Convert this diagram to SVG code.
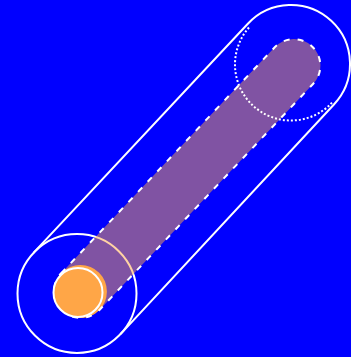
<svg xmlns="http://www.w3.org/2000/svg" width="351" height="357" viewBox="0 0 351 357">
  <style>
    .solid { fill: none; stroke: #FFFFFF; stroke-width: 2; }
    .dotted { fill: none; stroke: #FFFFFF; stroke-width: 2; stroke-dasharray: 2 2; }
    .dashed { fill: none; stroke: #FFFFFF; stroke-width: 2; stroke-dasharray: 6 8; }
    .orange { fill: #FFA647; }
  </style>
  <rect x="0" y="0" width="351" height="357" fill="#0000FF"/>
  <g id="start-sphere">
    <circle class="solid" cx="77" cy="293.5" r="59.5"/>
  </g>
  <g id="connectors">
    <path class="solid" d="M33.48,252.92 L247.85,23.76 A59,59 0 0 1 334.15,104.24 L120.52,334.08"/>
  </g>
  <g id="swept-path">
    <circle class="orange" cx="80.4" cy="291.5" r="26.5"/>
    <line x1="80.4" y1="291.5" x2="294" y2="65.5" stroke="#FFA647" stroke-opacity="0.5" stroke-width="53" stroke-linecap="round"/>
    <path class="dashed" d="M61.14,273.3 L274.74,47.3 A26.5,26.5 0 0 1 313.26,83.7 L99.66,309.7 A26.5,26.5 0 0 1 61.14,273.3 Z"/>
  </g>
  <g id="end-sphere">
    <path class="dotted" d="M331.96,102.69 A56,56 0 0 1 250.04,26.31"/>
  </g>
  <g id="ball">
    <circle class="orange" cx="78" cy="292.5" r="24.5" stroke="#FFFFFF" stroke-width="2"/>
  </g>
</svg>
